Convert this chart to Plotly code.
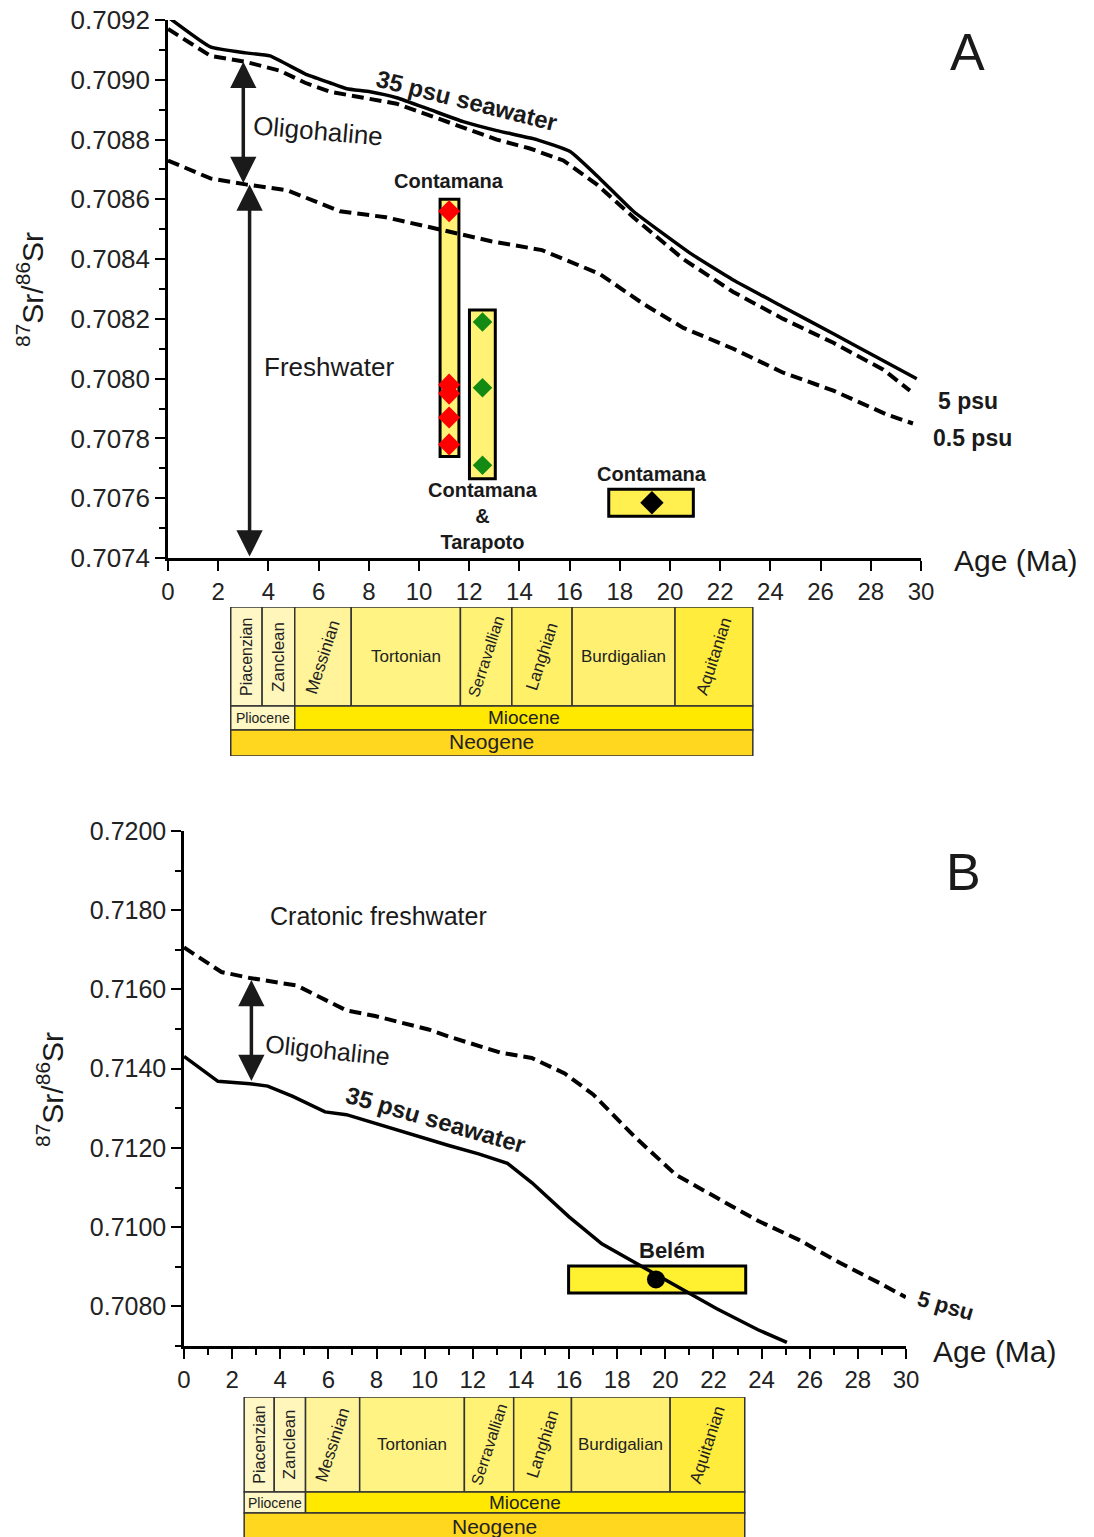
import plotly.graph_objects as go

# ---------------- data: panel A ----------------
age_35_A = [0, 1.69, 3.09, 4.06, 5.46, 6.45, 7.12, 8.05, 9.11, 10.44, 11.76, 13.1, 14.69,
            16.02, 17.2, 18.54, 20.8, 22.52, 24.51, 26.51, 28.5, 29.83]
sr_35_A = [0.70921, 0.70911, 0.70909, 0.70908, 0.70902, 0.70899, 0.70897, 0.70896,
           0.70894, 0.70890, 0.70886, 0.70883, 0.70880, 0.70876, 0.70867, 0.70856,
           0.70842, 0.70833, 0.70824, 0.70815, 0.70806, 0.70800]

age_5_A = [0, 1.69, 3.09, 4.47, 5.46, 6.45, 7.78, 9.11, 10.44, 11.76, 13.1, 14.42, 15.75,
           17.08, 18.54, 20.53, 22.52, 24.51, 26.51, 28.5, 29.56]
sr_5_A = [0.70917, 0.70908, 0.70906, 0.70903, 0.70899, 0.70896, 0.70894, 0.70892,
          0.70888, 0.70884, 0.70880, 0.70877, 0.70873, 0.70865, 0.70854, 0.70840,
          0.70829, 0.70820, 0.70812, 0.70803, 0.70796]

age_05_A = [0, 1.69, 3.09, 4.76, 6.85, 8.68, 10.78, 12.87, 14.9, 16.3, 17.21, 18.94,
            20.53, 22.52, 24.51, 26.51, 28.64, 29.68]
sr_05_A = [0.70873, 0.70867, 0.70865, 0.70863, 0.70856, 0.70854, 0.70850, 0.70846,
           0.70843, 0.70838, 0.70835, 0.70825, 0.70817, 0.70810, 0.70802, 0.70796,
           0.70788, 0.70785]

red_age = [11.2, 11.2, 11.2, 11.2, 11.2]
red_sr = [0.70856, 0.70798, 0.70795, 0.70787, 0.70778]
green_age = [12.53, 12.53, 12.53]
green_sr = [0.70819, 0.70797, 0.70771]
black_age = [19.28]
black_sr = [0.707585]

# sample ranges (age min, age max, Sr min, Sr max)
box_red = [10.84, 11.59, 0.70774, 0.70860]
box_green = [12.01, 13.04, 0.707665, 0.70823]
box_black = [17.56, 20.93, 0.70754, 0.70763]

# ---------------- data: panel B ----------------
age_5_B = [0, 1.555, 2.74, 4.68, 6.75, 7.94, 10.16, 11.05, 13.13, 14.45, 15.82, 17.0,
           18.73, 20.44, 22.14, 23.85, 25.55, 27.25, 28.96, 29.99]
sr_5_B = [0.71706, 0.71644, 0.71629, 0.71610, 0.71547, 0.71533, 0.71499, 0.71480,
          0.71441, 0.71427, 0.71388, 0.71335, 0.71228, 0.71132, 0.71074, 0.71016,
          0.70968, 0.70910, 0.70857, 0.70823]

age_35_B = [0, 1.41, 2.74, 3.48, 4.52, 5.86, 6.75, 8.68, 11.0, 12.24, 13.44, 14.46,
            16.0, 17.36, 18.73, 20.44, 22.14, 23.85, 25.05]
sr_35_B = [0.71431, 0.71368, 0.71362, 0.71356, 0.71330, 0.71291, 0.71284, 0.71248,
           0.71206, 0.71185, 0.71161, 0.71112, 0.71026, 0.70958, 0.70910, 0.70852,
           0.70794, 0.70741, 0.70709]

belem_age = [19.61]
belem_sr = [0.70868]
box_belem = [15.98, 23.34, 0.70834, 0.70902]

# ---------------- geologic time scale ----------------
stage_names = ["Piacenzian", "Zanclean", "Messinian", "Tortonian", "Serravallian",
               "Langhian", "Burdigalian", "Aquitanian"]
stage_start = [2.5, 3.75, 5.05, 7.3, 11.65, 13.7, 16.1, 20.2]
stage_end = [3.75, 5.05, 7.3, 11.65, 13.7, 16.1, 20.2, 23.3]
stage_colors = ["#FFF7C6", "#FFF6BC", "#FFF49A", "#FFF384", "#FFF274", "#FFF068",
                "#FFF072", "#FFEC3C"]
stage_angles = [-90, -90, -72, 0, -72, -72, 0, -72]
stage_sizes = [16, 17, 17, 17, 16, 17, 17, 17]

epoch_names = ["Pliocene", "Miocene"]
epoch_start = [2.5, 5.05]
epoch_end = [5.05, 23.3]
epoch_colors = ["#FFF7C4", "#FFE900"]
epoch_sizes = [14, 19]

period_names = ["Neogene"]
period_start = [2.5]
period_end = [23.3]
period_colors = ["#FFD71E"]

FONT = "Liberation Sans, Arial, sans-serif"
TXT = "#1a1a1a"
W, H = 1094, 1537


def px(v):
    return v / W


def py(v):
    return 1 - v / H


fig = go.Figure()

DASH = "12px,6px"
# Panel A curves
fig.add_trace(go.Scatter(x=age_35_A, y=sr_35_A, mode="lines",
                         line=dict(color="black", width=3.5, shape="spline", smoothing=0.4),
                         xaxis="x", yaxis="y"))
fig.add_trace(go.Scatter(x=age_5_A, y=sr_5_A, mode="lines",
                         line=dict(color="black", width=4, dash=DASH), xaxis="x", yaxis="y"))
fig.add_trace(go.Scatter(x=age_05_A, y=sr_05_A, mode="lines",
                         line=dict(color="black", width=4, dash=DASH), xaxis="x", yaxis="y"))
fig.add_trace(go.Scatter(x=red_age, y=red_sr, mode="markers",
                         marker=dict(symbol="diamond", size=17, color="#FF0000"), xaxis="x", yaxis="y"))
fig.add_trace(go.Scatter(x=green_age, y=green_sr, mode="markers",
                         marker=dict(symbol="diamond", size=15, color="#138A13"), xaxis="x", yaxis="y"))
fig.add_trace(go.Scatter(x=black_age, y=black_sr, mode="markers",
                         marker=dict(symbol="diamond", size=18, color="black"), xaxis="x", yaxis="y"))

# Panel B curves
fig.add_trace(go.Scatter(x=age_5_B, y=sr_5_B, mode="lines",
                         line=dict(color="black", width=4, dash=DASH), xaxis="x2", yaxis="y2"))
fig.add_trace(go.Scatter(x=age_35_B, y=sr_35_B, mode="lines",
                         line=dict(color="black", width=3.5), xaxis="x2", yaxis="y2"))
fig.add_trace(go.Scatter(x=belem_age, y=belem_sr, mode="markers",
                         marker=dict(symbol="circle", size=18, color="black"), xaxis="x2", yaxis="y2"))

shapes = []
for b, fc in [(box_red, "#FFF275"), (box_green, "#FFF275"), (box_black, "#FFF050")]:
    shapes.append(dict(type="rect", xref="x", yref="y", x0=b[0], x1=b[1], y0=b[2], y1=b[3],
                       fillcolor=fc, line=dict(color="black", width=3), layer="below"))
shapes.append(dict(type="rect", xref="x2", yref="y2", x0=box_belem[0], x1=box_belem[1],
                   y0=box_belem[2], y1=box_belem[3], fillcolor="#FFF030",
                   line=dict(color="black", width=3), layer="below"))

annotations = []

# time scale for both panels (rows in strip-axis units)
for xa, ya, rows in [("x3", "y3", (0, 26, 50, 149)), ("x4", "y4", (-4, 24, 45, 140))]:
    r0, r1, r2, r3 = rows
    for n, s, e, c, ang, fs in zip(stage_names, stage_start, stage_end, stage_colors,
                                   stage_angles, stage_sizes):
        shapes.append(dict(type="rect", xref=xa, yref=ya, x0=s, x1=e, y0=r2, y1=r3,
                           fillcolor=c, line=dict(color="#333333", width=1.5)))
        annotations.append(dict(xref=xa, yref=ya, x=(s + e) / 2, y=(r2 + r3) / 2, text=n,
                                showarrow=False, textangle=ang,
                                font=dict(family=FONT, size=fs, color="#222")))
    for n, s, e, c, fs in zip(epoch_names, epoch_start, epoch_end, epoch_colors, epoch_sizes):
        shapes.append(dict(type="rect", xref=xa, yref=ya, x0=s, x1=e, y0=r1, y1=r2,
                           fillcolor=c, line=dict(color="#333333", width=1.5)))
        annotations.append(dict(xref=xa, yref=ya, x=(s + e) / 2, y=(r1 + r2) / 2, text=n,
                                showarrow=False, font=dict(family=FONT, size=fs, color="#222")))
    for n, s, e, c in zip(period_names, period_start, period_end, period_colors):
        shapes.append(dict(type="rect", xref=xa, yref=ya, x0=s, x1=e, y0=r0, y1=r1,
                           fillcolor=c, line=dict(color="#333333", width=1.5)))
        annotations.append(dict(xref=xa, yref=ya, x=(s + e) / 2, y=(r0 + r1) / 2 + 1, text=n,
                                showarrow=False, font=dict(family=FONT, size=21, color="#222")))


def txt(xr, yr, x, y, t, size, bold=False, angle=0):
    if bold:
        t = "<b>" + t + "</b>"
    annotations.append(dict(xref=xr, yref=yr, x=x, y=y, text=t, showarrow=False,
                            textangle=angle, xanchor="center", yanchor="middle",
                            font=dict(family=FONT, size=size, color=TXT)))


def arrow(xr, yr, x, y0, y1):
    annotations.append(dict(xref=xr, yref=yr, axref=xr, ayref=yr, x=x, y=y0, ax=x, ay=y1,
                            text="", showarrow=True, arrowhead=2, arrowside="end+start",
                            arrowsize=1.5, arrowwidth=3.5, arrowcolor="#1a1a1a",
                            standoff=0, startstandoff=0))


# Panel A labels
txt("x", "y", 11.9, 0.70893, "35 psu seawater", 24, bold=True, angle=14)
txt("x", "y", 5.98, 0.70883, "Oligohaline", 26, angle=5)
txt("x", "y", 6.41, 0.70804, "Freshwater", 26)
txt("x", "y", 11.2, 0.70866, "Contamana", 20, bold=True)
txt("x", "y", 12.55, 0.70754, "Contamana<br>&<br>Tarapoto", 20, bold=True)
txt("x", "y", 19.28, 0.70768, "Contamana", 20, bold=True)
txt("paper", "paper", px(968), py(401), "5 psu", 23, bold=True)
txt("paper", "paper", px(972), py(438), "0.5 psu", 23, bold=True)
txt("paper", "paper", px(967), py(52), "A", 52)
txt("paper", "paper", px(1015), py(560), "Age (Ma)", 30)
txt("paper", "paper", px(30), py(290), "<sup>87</sup>Sr/<sup>86</sup>Sr", 30, angle=-90)
arrow("x", "y", 3.0, 0.70906, 0.70865)
arrow("x", "y", 3.25, 0.70865, 0.7074)

# Panel B labels
txt("x2", "y2", 8.1, 0.71785, "Cratonic freshwater", 25)
txt("x2", "y2", 5.98, 0.71447, "Oligohaline", 25, angle=6)
txt("x2", "y2", 10.43, 0.71271, "35 psu seawater", 24, bold=True, angle=16)
txt("x2", "y2", 20.27, 0.70940, "Belém", 22, bold=True)
txt("paper", "paper", px(945), py(1305), "5 psu", 22, bold=True, angle=16)
txt("paper", "paper", px(963), py(872), "B", 52)
txt("paper", "paper", px(994), py(1351), "Age (Ma)", 30)
txt("paper", "paper", px(50), py(1090), "<sup>87</sup>Sr/<sup>86</sup>Sr", 30, angle=-90)
arrow("x2", "y2", 2.8, 0.71624, 0.71365)

axis_common = dict(showline=True, linecolor="black", linewidth=2.5, ticks="outside",
                   tickcolor="black", tickwidth=2, ticklen=10, showgrid=False, zeroline=False,
                   mirror=False, automargin=False)

fig.update_layout(
    width=W, height=H, margin=dict(l=0, r=0, t=0, b=0, autoexpand=False),
    paper_bgcolor="white", plot_bgcolor="white", showlegend=False,
    xaxis=dict(domain=[px(168), px(921)], range=[0, 30], anchor="y", tickvals=list(range(0, 31, 2)),
               tickfont=dict(family=FONT, size=24, color="#222"), **axis_common),
    yaxis=dict(domain=[py(558), py(20)], range=[0.7074, 0.7092], anchor="x", dtick=0.0002,
               tickformat=".4f", tickfont=dict(family=FONT, size=26, color="#222"),
               minor=dict(dtick=0.0001, ticks="outside", ticklen=6, tickwidth=2, tickcolor="black"),
               **axis_common),
    xaxis2=dict(domain=[px(184), px(906)], range=[0, 30], anchor="y2", tickvals=list(range(0, 31, 2)),
                tickfont=dict(family=FONT, size=24, color="#222"),
                minor=dict(dtick=1, ticks="outside", ticklen=6, tickwidth=2, tickcolor="black"),
                **axis_common),
    yaxis2=dict(domain=[py(1346), py(831)], range=[0.7070, 0.7200], anchor="x2",
                tickvals=[0.708, 0.710, 0.712, 0.714, 0.716, 0.718, 0.720],
                tickformat=".4f", tickfont=dict(family=FONT, size=25, color="#222"),
                minor=dict(dtick=0.001, ticks="outside", ticklen=6, tickwidth=2, tickcolor="black"),
                **axis_common),
    xaxis3=dict(domain=[px(168), px(921)], range=[0, 30], anchor="y3", visible=False),
    yaxis3=dict(domain=[py(756), py(607)], range=[0, 149], anchor="x3", visible=False),
    xaxis4=dict(domain=[px(184), px(906)], range=[0, 30], anchor="y4", visible=False),
    yaxis4=dict(domain=[0, py(1397)], range=[0, 140], anchor="x4", visible=False),
    shapes=shapes, annotations=annotations,
)

fig.write_html("out.html")
